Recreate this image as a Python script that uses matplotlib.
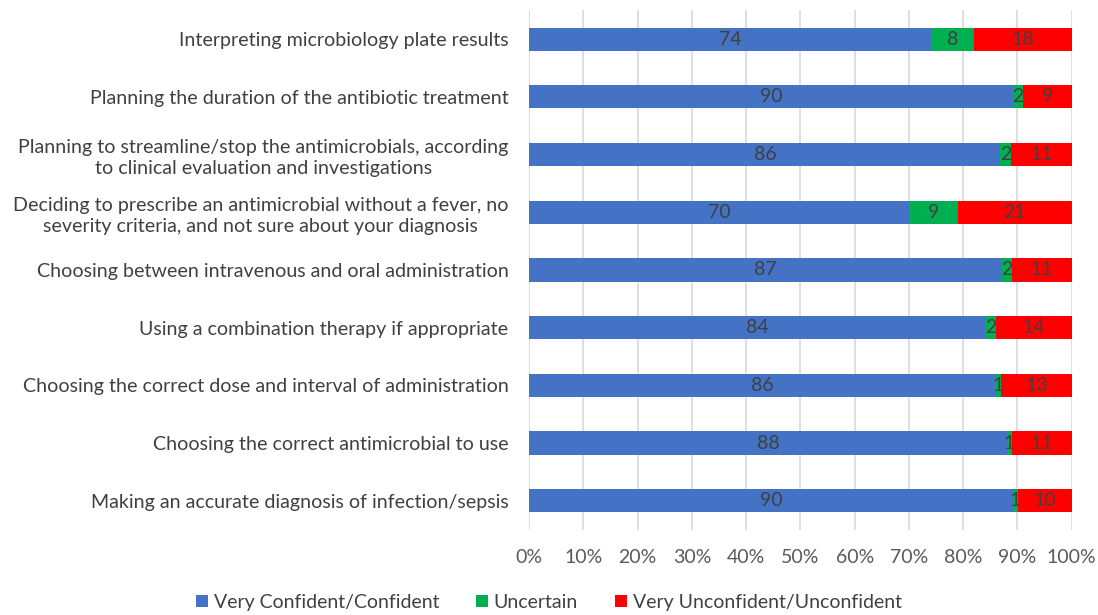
import matplotlib.pyplot as plt
import numpy as np

plt.rcParams['font.family'] = ['Lato', 'DejaVu Sans']

labels = [
    "Interpreting microbiology plate results",
    "Planning the duration of the antibiotic treatment",
    "Planning to streamline/stop the antimicrobials, according\nto clinical evaluation and investigations",
    "Deciding to prescribe an antimicrobial without a fever, no\nseverity criteria, and not sure about your diagnosis",
    "Choosing between intravenous and oral administration",
    "Using a combination therapy if appropriate",
    "Choosing the correct dose and interval of administration",
    "Choosing the correct antimicrobial to use",
    "Making an accurate diagnosis of infection/sepsis",
]
confident = [74, 90, 86, 70, 87, 84, 86, 88, 90]
uncertain = [8, 2, 2, 9, 2, 2, 1, 1, 1]
unconfident = [18, 9, 11, 21, 11, 14, 13, 11, 10]

series = [("Very Confident/Confident", confident, "#4472C4"),
          ("Uncertain", uncertain, "#00B050"),
          ("Very Unconfident/Unconfident", unconfident, "#FF0000")]

tot = np.array(confident) + np.array(uncertain) + np.array(unconfident)
y = np.arange(len(labels))

fig = plt.figure(figsize=(10.98, 6.15), dpi=100)
ax = fig.add_axes([0.482, 0.139, 0.494, 0.844])

left = np.zeros(len(labels))
for name, vals, col in series:
    w = np.array(vals) / tot * 100
    bars = ax.barh(y, w, left=left, height=0.4, color=col, label=name)
    ax.bar_label(bars, labels=[str(v) for v in vals], label_type="center",
                 color="#404040", fontsize=14)
    left += w

ax.set_xlim(0, 100)
ax.set_ylim(len(labels) - 0.5, -0.5)
ax.set_yticks(y)
ax.set_yticklabels(labels, fontsize=14.1, color="#404040",
                   multialignment="center", linespacing=1.3)
ax.set_xticks(np.arange(0, 101, 10))
ax.set_xticklabels([f"{t}%" for t in range(0, 101, 10)], fontsize=14, color="#595959")
ax.tick_params(length=0)
ax.tick_params(axis="x", pad=14)
ax.tick_params(axis="y", pad=15)
ax.xaxis.grid(True, color="#D9D9D9", linewidth=1.2)
ax.set_axisbelow(True)
for s in ax.spines.values():
    s.set_visible(False)

fig.legend(loc="lower center", bbox_to_anchor=(0.5, -0.022), ncol=3, frameon=False,
           fontsize=14, handlelength=0.6, handleheight=0.6, handletextpad=0.3,
           columnspacing=1.9, labelcolor="#404040")

fig.savefig("out.png")
plt.close(fig)
